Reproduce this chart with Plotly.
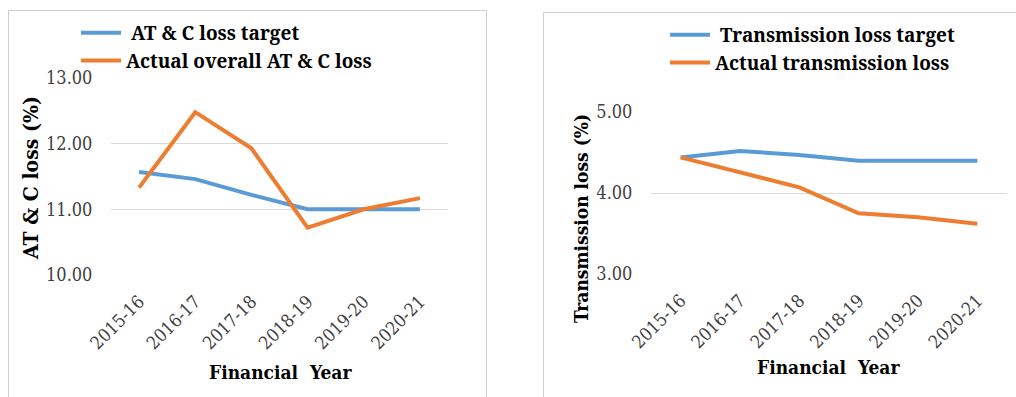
import plotly.graph_objects as go

years = ["2015-16", "2016-17", "2017-18", "2018-19", "2019-20", "2020-21"]

atc_target = [11.57, 11.46, 11.22, 11.00, 11.00, 11.00]
atc_actual = [11.33, 12.48, 11.93, 10.72, 11.00, 11.17]

tl_target = [4.44, 4.52, 4.47, 4.40, 4.40, 4.40]
tl_actual = [4.44, 4.26, 4.07, 3.75, 3.70, 3.62]

W, H = 1016, 397
BLUE = "#5B9BD5"
ORANGE = "#ED7D31"
GRID = "#D9D9D9"
SERIF_C = "DejaVu Serif Condensed, DejaVu Serif, serif"
SERIF_N = "Noto Serif, DejaVu Serif, serif"


def px_x(p):
    return p / W


def px_y(p):
    return 1 - p / H


fig = go.Figure()

fig.add_trace(go.Scatter(x=years, y=atc_target, mode="lines", name=" AT & C loss target",
                         line=dict(color=BLUE, width=4), xaxis="x", yaxis="y", legend="legend"))
fig.add_trace(go.Scatter(x=years, y=atc_actual, mode="lines", name="Actual overall AT & C loss",
                         line=dict(color=ORANGE, width=4), xaxis="x", yaxis="y", legend="legend"))
fig.add_trace(go.Scatter(x=years, y=tl_target, mode="lines", name=" Transmission loss target",
                         line=dict(color=BLUE, width=4), xaxis="x2", yaxis="y2", legend="legend2"))
fig.add_trace(go.Scatter(x=years, y=tl_actual, mode="lines", name="Actual transmission loss",
                         line=dict(color=ORANGE, width=4), xaxis="x2", yaxis="y2", legend="legend2"))

tick_font = dict(family=SERIF_C, size=18, color="#404040")
xaxis_common = dict(type="category", range=[-0.5, 5.5], showgrid=False, showline=False,
                    tickangle=-45, tickfont=tick_font, ticks="outside", ticklen=8,
                    tickcolor="rgba(0,0,0,0)", fixedrange=True, automargin=False)
yaxis_common = dict(showgrid=True, gridcolor=GRID, gridwidth=1, zeroline=False, showline=False,
                    tickformat=".2f", dtick=1, tickfont=tick_font, ticks="outside", ticklen=14,
                    tickcolor="rgba(0,0,0,0)", fixedrange=True, automargin=False)

legend_common = dict(font=dict(family=SERIF_N, size=19, color="#000000", weight="bold"),
                     bgcolor="rgba(0,0,0,0)", traceorder="normal", tracegroupgap=0,
                     itemwidth=40, xanchor="left", yanchor="top", orientation="v")


def title_font(size):
    return dict(family=SERIF_C, size=size, color="#000000", weight="bold")


fig.update_layout(
    template="none",
    width=W, height=H,
    margin=dict(l=0, r=0, t=0, b=0, autoexpand=False),
    paper_bgcolor="white", plot_bgcolor="white",
    showlegend=True,
    xaxis=dict(domain=[px_x(111), px_x(448)], anchor="y", **xaxis_common),
    yaxis=dict(domain=[px_y(275), px_y(78)], range=[9.999, 13.001], anchor="x", **yaxis_common),
    xaxis2=dict(domain=[px_x(651), px_x(1007)], anchor="y2", **xaxis_common),
    yaxis2=dict(domain=[px_y(274), px_y(112)], range=[2.999, 5.001], anchor="x2", **yaxis_common),
    legend=dict(x=px_x(76), y=px_y(14), **legend_common),
    legend2=dict(x=px_x(665), y=px_y(16), **legend_common),
    shapes=[
        # chart-area borders
        dict(type="path", xref="paper", yref="paper",
             path=f"M {px_x(8.5)},{px_y(H + 2)} L {px_x(8.5)},{px_y(10.5)} L {px_x(486.5)},{px_y(10.5)} L {px_x(486.5)},{px_y(H + 2)}",
             line=dict(color="#D0D0D0", width=1)),
        dict(type="path", xref="paper", yref="paper",
             path=f"M {px_x(543.5)},{px_y(H + 2)} L {px_x(543.5)},{px_y(12.5)} L {px_x(W + 2)},{px_y(12.5)}",
             line=dict(color="#D0D0D0", width=1)),
    ],
    annotations=[
        dict(text="AT & C loss (%)", xref="paper", yref="paper", x=px_x(30), y=px_y(178),
             textangle=-90, showarrow=False, xanchor="center", yanchor="middle", font=title_font(21)),
        dict(text="Financial  Year", xref="paper", yref="paper", x=px_x(280), y=px_y(372),
             showarrow=False, xanchor="center", yanchor="middle", font=title_font(19)),
        dict(text="Transmission loss (%)", xref="paper", yref="paper", x=px_x(581), y=px_y(219),
             textangle=-90, showarrow=False, xanchor="center", yanchor="middle", font=title_font(19)),
        dict(text="Financial  Year", xref="paper", yref="paper", x=px_x(828), y=px_y(367),
             showarrow=False, xanchor="center", yanchor="middle", font=title_font(19)),
    ],
)

fig.write_html("out.html")
